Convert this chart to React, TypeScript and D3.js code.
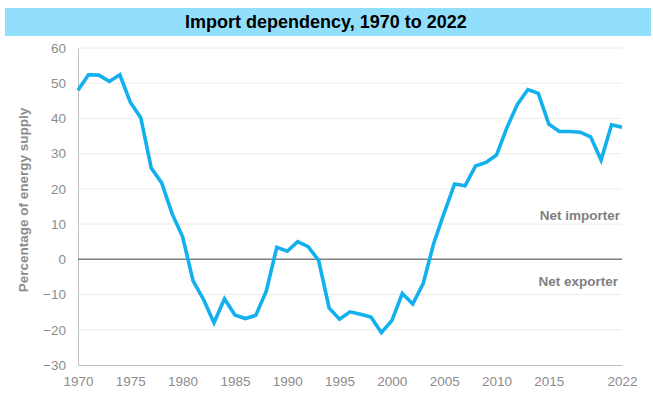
import React, { useEffect, useRef } from 'react';
import * as d3 from 'd3';

const years = d3.range(1970, 2023);
const dependency = [
  48, 52.4, 52.3, 50.5, 52.4, 44.6, 40.2, 25.9, 21.7, 12.9,
  6.4, -6.1, -11.4, -18, -11.2, -15.8, -16.8, -15.9, -9, 3.4,
  2.3, 5, 3.6, -0.3, -13.8, -17, -14.9, -15.6, -16.4, -20.8,
  -17.4, -9.7, -12.7, -6.8, 4.5, 13.2, 21.4, 20.9, 26.5, 27.5,
  29.6, 37.4, 44, 48.2, 47.1, 38.4, 36.3, 36.3, 36.1, 34.8,
  28.2, 38.2, 37.5,
];
const xTicks = [1970, 1975, 1980, 1985, 1990, 1995, 2000, 2005, 2010, 2015, 2022];
const yTicks = [-30, -20, -10, 0, 10, 20, 30, 40, 50, 60];

const W = 653;
const H = 396;
const FONT = '"Liberation Sans", Arial, sans-serif';

const App = () => {
  const ref = useRef<SVGSVGElement>(null);

  useEffect(() => {
    const svg = d3.select(ref.current);
    svg.selectAll('*').remove();

    const x = d3.scaleLinear().domain([1970, 2022]).range([78, 622]);
    const y = d3.scaleLinear().domain([-30, 60]).range([365, 48]);

    // title bar
    svg.append('rect').attr('x', 5).attr('y', 8).attr('width', 646).attr('height', 28).attr('fill', '#92DFFC');
    svg.append('text')
      .attr('x', 326).attr('y', 28)
      .attr('text-anchor', 'middle')
      .style('font', `bold 18px ${FONT}`)
      .attr('fill', '#000')
      .text('Import dependency, 1970 to 2022');

    // gridlines
    svg.append('g')
      .selectAll('line')
      .data(yTicks.filter(d => d !== 0 && d !== -30))
      .join('line')
      .attr('x1', x(1970)).attr('x2', x(2022))
      .attr('y1', d => y(d)).attr('y2', d => y(d))
      .attr('stroke', '#ececec').attr('stroke-width', 1);

    // y axis
    const yAxis = svg.append('g')
      .attr('transform', `translate(${x(1970)},0)`)
      .call(d3.axisLeft(y).tickValues(yTicks).tickSize(0).tickPadding(12));
    yAxis.select('.domain').attr('stroke', '#bfbfbf');
    yAxis.selectAll('text').style('font', `13.5px ${FONT}`).attr('fill', '#8c8c8c');

    // x axis
    const xAxis = svg.append('g')
      .attr('transform', `translate(0,${y(-30)})`)
      .call(d3.axisBottom(x).tickValues(xTicks).tickFormat(d3.format('d')).tickSize(0).tickPadding(11));
    xAxis.select('.domain').attr('stroke', '#bfbfbf');
    xAxis.selectAll('text').style('font', `13.5px ${FONT}`).attr('fill', '#8c8c8c');

    // zero line
    svg.append('line')
      .attr('x1', x(1970)).attr('x2', x(2022))
      .attr('y1', y(0)).attr('y2', y(0))
      .attr('stroke', '#7f7f7f').attr('stroke-width', 1.5);

    // y axis title
    svg.append('text')
      .attr('transform', `translate(28,200) rotate(-90)`)
      .attr('text-anchor', 'middle')
      .style('font', `bold 13.5px ${FONT}`)
      .attr('fill', '#8c8c8c')
      .text('Percentage of energy supply');

    // labels
    svg.append('text')
      .attr('x', 620).attr('y', 220)
      .attr('text-anchor', 'end')
      .style('font', `bold 13.5px ${FONT}`)
      .attr('fill', '#7f7f7f')
      .text('Net importer');
    svg.append('text')
      .attr('x', 618).attr('y', 286)
      .attr('text-anchor', 'end')
      .style('font', `bold 13.5px ${FONT}`)
      .attr('fill', '#7f7f7f')
      .text('Net exporter');

    // line
    const line = d3.line<number>()
      .x((d, i) => x(years[i]))
      .y(d => y(d));
    svg.append('path')
      .datum(dependency)
      .attr('d', line)
      .attr('fill', 'none')
      .attr('stroke', '#12B0EE')
      .attr('stroke-width', 3.6)
      .attr('stroke-linejoin', 'miter');
  }, []);

  return (
    <svg
      ref={ref}
      width={W}
      height={H}
      style={{ position: 'absolute', left: 0, top: 0, background: '#fff' }}
    />
  );
};

export default App;
